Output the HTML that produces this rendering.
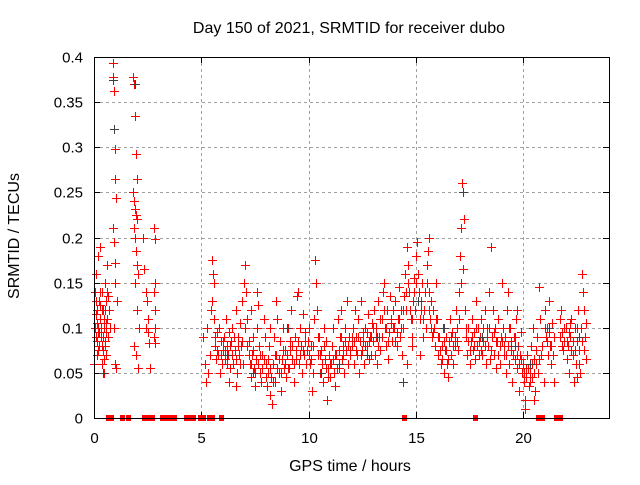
<!DOCTYPE html>
<html><head><meta charset="utf-8"><style>
html,body{margin:0;padding:0;background:#fff;}
svg text{font-family:"Liberation Sans",sans-serif;font-size:16px;fill:#000;}
svg text.tick{font-size:15px;}
</style></head><body>
<svg id="chart" width="640" height="480" viewBox="0 0 640 480" xmlns="http://www.w3.org/2000/svg">
<rect width="640" height="480" fill="#fff"/>
<g id="grid"></g>
<g id="ticks"></g>
<g id="marks"></g>
<rect x="94.5" y="57.5" width="515" height="361" fill="none" stroke="#000" stroke-width="1"/>
<text x="349" y="33" text-anchor="middle">Day 150 of 2021, SRMTID for receiver dubo</text>
<text x="350" y="471" text-anchor="middle">GPS time / hours</text>
<text x="19" y="236" text-anchor="middle" transform="rotate(-90 19 236)">SRMTID / TECUs</text>
</svg>
<script>
const xTicks = [0,5,10,15,20];
const yTicks = [0,0.05,0.1,0.15,0.2,0.25,0.3,0.35,0.4];
const yTickLabels = ["0","0.05","0.1","0.15","0.2","0.25","0.3","0.35","0.4"];
const zeroTimes = [0.65,0.8,1.3,1.58,2.33,2.52,2.7,3.17,3.36,3.54,3.73,4.29,4.43,4.61,4.94,5.08,5.36,5.5,5.92,14.45,17.75,20.69,20.88,21.53,21.71];
const blackPoints = [[0.9,0.375],[0.95,0.32],[1.9,0.37],[0.4,0.05],[7.4,0.05],[9.0,0.1],[11.4,0.06],[13.2,0.09],[14.4,0.04],[15.1,0.13],[17.2,0.25],[18.1,0.09],[19.6,0.08],[20.3,0.06],[22.6,0.09],[12.7,0.07],[16.3,0.1],[6.2,0.07],[10.6,0.05],[21.2,0.1]];
const redPoints = [
[0.02,0.06],[0.05,0.14],[0.08,0.09],[0.1,0.16],[0.12,0.12],[0.15,0.07],[0.18,0.1],[0.2,0.18],[0.22,0.13],[0.25,0.08],[0.28,0.11],[0.3,0.19],[0.32,0.1],[0.35,0.06],[0.38,0.14],[0.4,0.09],[0.42,0.12],[0.45,0.05],[0.48,0.1],[0.5,0.15],[0.52,0.08],[0.55,0.13],[0.58,0.07],[0.6,0.11],[0.62,0.17],[0.65,0.09],[0.7,0.12],[0.75,0.1],[0.05,0.1],[0.1,0.13],[0.15,0.085],[0.2,0.075],[0.25,0.095],[0.3,0.14],[0.35,0.12],[0.4,0.075],[0.45,0.065],[0.5,0.085],[0.55,0.105],[0.6,0.14],
[0.88,0.393],[0.9,0.378],[0.92,0.362],[0.95,0.32],[0.97,0.298],[1.0,0.265],[1.02,0.244],[0.9,0.21],[0.95,0.195],[1.0,0.172],[1.05,0.13],[0.93,0.1],[0.98,0.06],[1.03,0.055],[1.0,0.15],
[1.8,0.378],[1.85,0.37],[1.9,0.335],[1.95,0.292],[2.0,0.265],[1.82,0.25],[1.88,0.24],[1.92,0.232],[1.98,0.225],[2.02,0.22],[1.85,0.21],[1.9,0.2],[1.95,0.185],[2.0,0.17],[2.05,0.16],[1.9,0.15],[2.0,0.12],[2.1,0.1],[1.85,0.08],[1.95,0.07],[2.05,0.055],
[2.3,0.2],[2.35,0.165],[2.4,0.14],[2.45,0.13],[2.5,0.11],[2.5,0.095],[2.55,0.083],[2.6,0.055],[2.4,0.1],[2.8,0.21],[2.82,0.198],[2.85,0.15],[2.8,0.14],[2.83,0.12],[2.85,0.1],[2.8,0.09],[2.82,0.083],
[5.1,0.09],[5.15,0.06],[5.2,0.04],[5.25,0.1],[5.3,0.05],[5.4,0.07],[5.45,0.12],[5.5,0.175],[5.55,0.16],[5.6,0.15],[5.5,0.13],[5.6,0.11],[5.65,0.08],[5.7,0.065],[5.75,0.095],[5.8,0.07],[5.85,0.05],[5.9,0.085],[5.95,0.06],[6.0,0.075],
[6.05,0.09],[6.1,0.065],[6.15,0.11],[6.2,0.08],[6.25,0.07],[6.3,0.095],[6.35,0.055],[6.4,0.085],[6.45,0.1],[6.5,0.06],[6.55,0.075],[6.6,0.12],[6.65,0.05],[6.7,0.09],[6.75,0.07],[6.8,0.105],[6.85,0.08],[6.9,0.13],[6.95,0.06],[6.3,0.04],[6.6,0.035],
[7.0,0.15],[7.05,0.17],[7.1,0.14],[7.15,0.11],[7.2,0.085],[7.25,0.06],[7.3,0.045],[7.35,0.07],[7.4,0.09],[7.45,0.055],[7.5,0.035],[7.55,0.065],[7.6,0.1],[7.65,0.125],[7.7,0.08],[7.75,0.05],[7.8,0.04],[7.85,0.07],[7.9,0.11],[7.95,0.09],[7.3,0.12],[7.6,0.14],
[8.0,0.06],[8.05,0.035],[8.1,0.05],[8.15,0.08],[8.2,0.025],[8.25,0.045],[8.3,0.015],[8.35,0.06],[8.4,0.09],[8.45,0.04],[8.5,0.07],[8.55,0.11],[8.6,0.05],[8.65,0.085],[8.7,0.03],[8.75,0.065],[8.8,0.1],[8.85,0.055],[8.9,0.075],[8.95,0.045],[8.2,0.1],[8.5,0.13],
[9.0,0.07],[9.05,0.1],[9.1,0.055],[9.15,0.085],[9.2,0.12],[9.25,0.065],[9.3,0.04],[9.35,0.09],[9.4,0.075],[9.45,0.135],[9.5,0.14],[9.55,0.06],[9.6,0.1],[9.65,0.08],[9.7,0.05],[9.75,0.115],[9.8,0.07],[9.85,0.095],[9.9,0.06],[9.95,0.085],
[10.0,0.1],[10.05,0.06],[10.1,0.08],[10.15,0.03],[10.2,0.05],[10.25,0.11],[10.3,0.175],[10.35,0.15],[10.4,0.12],[10.45,0.07],[10.5,0.09],[10.55,0.05],[10.6,0.075],[10.65,0.04],[10.7,0.1],[10.75,0.065],[10.8,0.085],[10.85,0.02],[10.9,0.055],[10.95,0.07],
[11.0,0.045],[11.05,0.06],[11.1,0.08],[11.15,0.1],[11.2,0.05],[11.25,0.035],[11.3,0.07],[11.35,0.11],[11.4,0.055],[11.45,0.09],[11.5,0.12],[11.55,0.065],[11.6,0.08],[11.65,0.05],[11.7,0.1],[11.75,0.075],[11.8,0.13],[11.85,0.06],[11.9,0.09],[11.95,0.07],
[12.0,0.08],[12.05,0.1],[12.1,0.06],[12.15,0.12],[12.2,0.09],[12.25,0.07],[12.3,0.11],[12.35,0.05],[12.4,0.085],[12.45,0.13],[12.5,0.075],[12.55,0.095],[12.6,0.06],[12.65,0.1],[12.7,0.08],[12.75,0.115],[12.8,0.065],[12.85,0.09],[12.9,0.07],[12.95,0.105],
[13.0,0.085],[13.05,0.12],[13.1,0.07],[13.15,0.1],[13.2,0.06],[13.25,0.13],[13.3,0.09],[13.35,0.075],[13.4,0.11],[13.45,0.14],[13.5,0.15],[13.55,0.1],[13.6,0.08],[13.65,0.12],[13.7,0.065],[13.75,0.095],[13.8,0.135],[13.85,0.105],[13.9,0.085],[13.95,0.12],
[14.0,0.1],[14.05,0.13],[14.1,0.08],[14.15,0.11],[14.2,0.145],[14.25,0.09],[14.3,0.12],[14.35,0.07],[14.4,0.1],[14.45,0.135],[14.5,0.16],[14.55,0.12],[14.6,0.19],[14.65,0.17],[14.7,0.14],[14.75,0.11],[14.8,0.09],[14.85,0.13],[14.9,0.155],[14.95,0.12],[14.6,0.06],[14.8,0.08],
[15.0,0.18],[15.05,0.195],[15.1,0.16],[15.15,0.14],[15.2,0.11],[15.25,0.13],[15.3,0.15],[15.35,0.09],[15.4,0.12],[15.45,0.1],[15.5,0.17],[15.55,0.185],[15.6,0.14],[15.65,0.11],[15.7,0.13],[15.75,0.09],[15.8,0.12],[15.85,0.1],[15.9,0.08],[15.95,0.15],[15.2,0.07],[15.6,0.2],
[16.0,0.11],[16.05,0.07],[16.1,0.09],[16.15,0.06],[16.2,0.08],[16.25,0.1],[16.3,0.05],[16.35,0.075],[16.4,0.09],[16.45,0.06],[16.5,0.045],[16.55,0.085],[16.6,0.11],[16.65,0.07],[16.7,0.095],[16.75,0.06],[16.8,0.08],[16.85,0.12],[16.9,0.1],[16.95,0.075],
[17.0,0.14],[17.05,0.18],[17.1,0.21],[17.15,0.26],[17.2,0.25],[17.25,0.22],[17.3,0.12],[17.35,0.09],[17.4,0.07],[17.45,0.1],[17.5,0.06],[17.55,0.085],[17.6,0.11],[17.65,0.075],[17.7,0.095],[17.75,0.065],[17.8,0.13],[17.85,0.08],[17.9,0.1],[17.95,0.07],[17.1,0.15],[17.2,0.165],
[18.0,0.09],[18.05,0.11],[18.1,0.07],[18.15,0.085],[18.2,0.12],[18.25,0.06],[18.3,0.1],[18.35,0.08],[18.4,0.14],[18.45,0.065],[18.5,0.19],[18.55,0.09],[18.6,0.12],[18.65,0.07],[18.7,0.1],[18.75,0.055],[18.8,0.085],[18.85,0.11],[18.9,0.06],[18.95,0.09],
[19.0,0.15],[19.05,0.1],[19.1,0.07],[19.15,0.09],[19.2,0.05],[19.25,0.12],[19.3,0.08],[19.35,0.06],[19.4,0.1],[19.45,0.075],[19.5,0.04],[19.55,0.09],[19.6,0.065],[19.65,0.11],[19.7,0.055],[19.75,0.08],[19.8,0.03],[19.85,0.07],[19.9,0.095],[19.95,0.05],[19.3,0.14],[19.7,0.12],
[20.0,0.06],[20.05,0.04],[20.1,0.02],[20.15,0.055],[20.2,0.07],[20.25,0.035],[20.3,0.05],[20.35,0.08],[20.4,0.045],[20.45,0.1],[20.5,0.065],[20.55,0.03],[20.6,0.06],[20.65,0.09],[20.7,0.05],[20.75,0.145],[20.8,0.11],[20.85,0.07],[20.9,0.08],[20.95,0.04],[20.5,0.02],[20.1,0.01],
[21.0,0.12],[21.05,0.09],[21.1,0.1],[21.15,0.07],[21.2,0.13],[21.25,0.08],[21.3,0.06],[21.35,0.105],[21.4,0.07],[21.45,0.04],[21.7,0.11],[21.75,0.12],[21.8,0.095],[21.85,0.075],[21.9,0.1],
[22.0,0.1],[22.05,0.065],[22.1,0.08],[22.15,0.05],[22.2,0.09],[22.25,0.11],[22.3,0.07],[22.35,0.04],[22.4,0.1],[22.45,0.06],[22.5,0.085],[22.55,0.12],[22.6,0.075],[22.65,0.05],[22.7,0.1],[22.75,0.16],[22.8,0.14],[22.85,0.12],[22.9,0.09],[22.95,0.065],[22.5,0.045],[22.2,0.105]
];
const redPointsExtra = [
[0.07,0.115],[0.17,0.095],[0.27,0.125],[0.37,0.08],[0.47,0.11],[0.57,0.095],[0.67,0.135],[0.13,0.105],[0.33,0.09],[0.53,0.12],
[5.62,0.09],[5.72,0.075],[5.82,0.1],[5.92,0.07],[6.02,0.085],[6.12,0.075],[6.22,0.06],[6.32,0.08],[6.42,0.07],[6.52,0.09],[6.62,0.065],[6.72,0.08],[6.82,0.06],[6.92,0.085],
[7.02,0.1],[7.12,0.08],[7.22,0.07],[7.32,0.06],[7.42,0.075],[7.52,0.05],[7.62,0.06],[7.72,0.07],[7.82,0.055],[7.92,0.065],
[8.02,0.045],[8.12,0.065],[8.22,0.055],[8.32,0.04],[8.42,0.07],[8.52,0.055],[8.62,0.065],[8.72,0.05],[8.82,0.075],[8.92,0.06],
[9.02,0.055],[9.12,0.075],[9.22,0.08],[9.32,0.06],[9.42,0.065],[9.52,0.085],[9.62,0.07],[9.72,0.075],[9.82,0.085],[9.92,0.075],
[10.02,0.07],[10.12,0.065],[10.22,0.08],[10.42,0.09],[10.52,0.07],[10.62,0.06],[10.72,0.08],[10.82,0.055],[10.92,0.045],
[11.02,0.06],[11.12,0.065],[11.22,0.07],[11.32,0.055],[11.42,0.075],[11.52,0.09],[11.62,0.07],[11.72,0.085],[11.82,0.08],[11.92,0.075],
[12.02,0.09],[12.12,0.085],[12.22,0.075],[12.32,0.09],[12.42,0.07],[12.52,0.085],[12.62,0.08],[12.72,0.095],[12.82,0.085],[12.92,0.09],
[13.02,0.1],[13.12,0.09],[13.22,0.08],[13.32,0.11],[13.42,0.09],[13.52,0.12],[13.62,0.1],[13.72,0.085],[13.82,0.11],[13.92,0.1],
[14.02,0.085],[14.12,0.095],[14.22,0.11],[14.32,0.1],[14.42,0.12],[14.52,0.14],[14.62,0.15],[14.72,0.12],[14.82,0.11],[14.92,0.14],
[15.02,0.15],[15.12,0.13],[15.22,0.12],[15.32,0.11],[15.42,0.14],[15.52,0.15],[15.62,0.12],[15.72,0.1],[15.82,0.095],[15.92,0.11],
[16.02,0.09],[16.12,0.075],[16.22,0.065],[16.32,0.085],[16.42,0.075],[16.52,0.065],[16.62,0.09],[16.72,0.08],[16.82,0.09],[16.92,0.085],
[17.02,0.11],[17.32,0.1],[17.42,0.085],[17.52,0.075],[17.62,0.09],[17.72,0.08],[17.82,0.1],[17.92,0.085],
[18.02,0.075],[18.12,0.1],[18.22,0.08],[18.32,0.09],[18.42,0.1],[18.52,0.075],[18.62,0.095],[18.72,0.085],[18.82,0.07],[18.92,0.08],
[19.02,0.085],[19.12,0.08],[19.22,0.07],[19.32,0.1],[19.42,0.085],[19.52,0.07],[19.62,0.09],[19.72,0.07],[19.82,0.06],[19.92,0.065],
[20.02,0.05],[20.12,0.045],[20.22,0.055],[20.32,0.04],[20.42,0.06],[20.52,0.05],[20.62,0.075],[20.72,0.065],
[21.02,0.1],[21.12,0.085],[21.22,0.095],[21.32,0.08],[21.42,0.09],[21.72,0.09],[21.82,0.08],[21.92,0.085],
[22.02,0.085],[22.12,0.095],[22.22,0.075],[22.32,0.085],[22.42,0.075],[22.52,0.1],[22.62,0.06],[22.72,0.085],[22.82,0.075],[22.92,0.105]
];

const NS='http://www.w3.org/2000/svg';
const L=94,R=609,T=57,B=418;
function xs(t){return L+(t-0)/(24-0)*(R-L);}
function ys(v){return B-(v-0)/(0.4-0)*(B-T);}
function mk(tag,attrs,parent){const e=document.createElementNS(NS,tag);for(const k in attrs)e.setAttribute(k,attrs[k]);parent.appendChild(e);return e;}
const grid=document.getElementById('grid'),ticks=document.getElementById('ticks'),marks=document.getElementById('marks');
yTicks.forEach((v,i)=>{
  const y=Math.round(ys(v))+0.5;
  if(i>0&&i<yTicks.length-1){const g=mk('line',{x1:L,x2:R,y1:y,y2:y,stroke:'#a0a0a0','stroke-dasharray':'3,3'},grid);
  
  }
  mk('line',{x1:L,x2:L+6,y1:y,y2:y,stroke:'#000'},ticks);
  mk('line',{x1:R-6,x2:R,y1:y,y2:y,stroke:'#000'},ticks);
  const t=mk('text',{x:L-11,y:y+5,'text-anchor':'end','class':'tick'},ticks);t.textContent=yTickLabels[i];
  
  
});
xTicks.forEach(v=>{
  const x=Math.round(xs(v))+0.5;
  if(v>0){const g=mk('line',{x1:x,x2:x,y1:T,y2:B,stroke:'#a0a0a0','stroke-dasharray':'3,3'},grid);
  
  }
  mk('line',{x1:x,x2:x,y1:B-6,y2:B,stroke:'#000'},ticks);
  mk('line',{x1:x,x2:x,y1:T,y2:T+6,stroke:'#000'},ticks);
  const t=mk('text',{x:x,y:B+25,'text-anchor':'middle','class':'tick'},ticks);t.textContent=String(v);
  
  
});
function plus(t,v,color,name){
  const x=Math.round(xs(t))+0.5,y=Math.round(ys(v))+0.5;
  const p=mk('path',{d:`M${x-4.5},${y}H${x+4.5}M${x},${y-4.5}V${y+4.5}`,stroke:color,'stroke-width':1,fill:'none'},marks);
  
  
}
redPoints.forEach(d=>plus(d[0],d[1],'#ff0000','red-point'));
redPointsExtra.forEach(d=>plus(d[0],d[1],'#ff0000','red-point'));
blackPoints.forEach(d=>plus(d[0],d[1],'#404040','black-point'));
zeroTimes.forEach(t=>{
  const r=mk('rect',{x:Math.round(xs(t))-2,y:B-3,width:5,height:6,fill:'#ff0000'},marks);
  
  
});
</script>
</body></html>
